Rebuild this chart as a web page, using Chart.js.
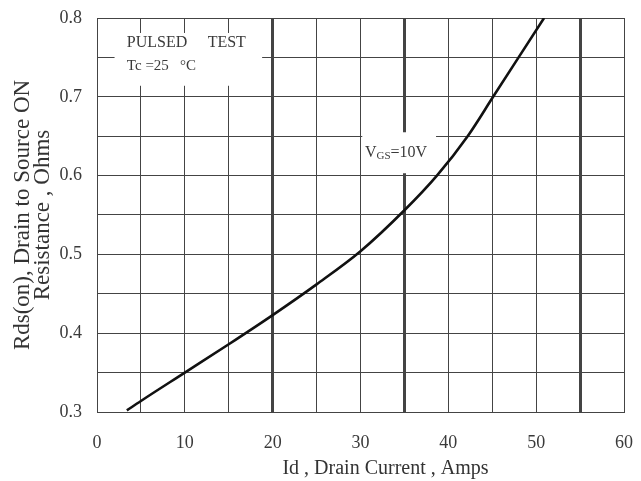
<!DOCTYPE html>
<html>
<head>
<meta charset="utf-8">
<script src="https://cdn.jsdelivr.net/npm/chart.js@4.4.1/dist/chart.umd.min.js"></script>
<style>
  html, body { margin: 0; padding: 0; background: #fff; }
  #wrap { width: 641px; height: 481px; position: relative; }
</style>
</head>
<body>
<div id="wrap"><canvas id="myChart"></canvas></div>
<script>
// Id (A) vs Rds(on) (ohm), VGS = 10V, Tc = 25C
const drainCurrent = [3.4, 5, 10, 15, 20, 25, 30, 35, 38.7, 42.2, 45.1, 48.0, 50.9];
const rdsOn = [0.302, 0.314, 0.350, 0.386, 0.423, 0.462, 0.504, 0.556, 0.600, 0.650, 0.700, 0.750, 0.800];

const xTickValues = [0, 10, 20, 30, 40, 50, 60];
const yTickValues = [0.3, 0.4, 0.5, 0.6, 0.7, 0.8];
const heavyGridX = [20, 35, 55];

const serif = '"Liberation Serif", "Times New Roman", serif';

// white boxes that cut the grid behind the notes (data units)
const noteBoxes = [
    { x0: 2.0, x1: 18.8, y0: 0.781, y1: 0.714 },
    { x0: 30.2, x1: 38.6, y0: 0.655, y1: 0.603 }
];

const notesPlugin = {
    id: 'notes',
    beforeDatasetsDraw(chart) {
        const { ctx, scales: { x, y } } = chart;
        ctx.save();
        ctx.fillStyle = '#fff';
        noteBoxes.forEach(b => {
            const left = x.getPixelForValue(b.x0), right = x.getPixelForValue(b.x1);
            const top = y.getPixelForValue(b.y0), bottom = y.getPixelForValue(b.y1);
            ctx.fillRect(left, top, right - left, bottom - top);
        });
        ctx.restore();
    },
    afterDatasetsDraw(chart) {
        const { ctx, scales: { x, y } } = chart;
        ctx.save();
        ctx.fillStyle = '#3a3a3a';
        ctx.textBaseline = 'middle';
        ctx.textAlign = 'left';
        ctx.font = '16px ' + serif;
        ctx.fillText('PULSED', x.getPixelForValue(3.4), y.getPixelForValue(0.768));
        ctx.fillText('TEST', x.getPixelForValue(12.6), y.getPixelForValue(0.768));
        ctx.font = '15px ' + serif;
        ctx.fillText('Tc =25   \u00B0C', x.getPixelForValue(3.4), y.getPixelForValue(0.739));

        // V with GS subscript
        let px = x.getPixelForValue(30.5);
        const py = y.getPixelForValue(0.629);
        ctx.font = '16px ' + serif;
        ctx.fillText('V', px, py);
        px += ctx.measureText('V').width;
        ctx.font = '11px ' + serif;
        ctx.fillText('GS', px, py + 3);
        px += ctx.measureText('GS').width;
        ctx.font = '16px ' + serif;
        ctx.fillText('=10V', px, py);
        ctx.restore();
    }
};

const ctx = document.getElementById('myChart');

new Chart(ctx.getContext('2d'), {
    type: 'line',
    data: {
        datasets: [{
            label: 'VGS=10V',
            data: drainCurrent.map((v, i) => ({ x: v, y: rdsOn[i] })),
            borderColor: '#111',
            borderWidth: 2.6,
            pointRadius: 0,
            fill: false,
            cubicInterpolationMode: 'monotone'
        }]
    },
    options: {
        responsive: true,
        maintainAspectRatio: false,
        animation: false,
        layout: {
            autoPadding: false,
            padding: { left: 0, right: 17, top: 18, bottom: 0 }
        },
        plugins: {
            legend: { display: false },
            tooltip: { enabled: false }
        },
        scales: {
            x: {
                type: 'linear',
                min: 0,
                max: 60,
                afterFit: scale => {
                    scale.height = 69;
                    scale.paddingLeft = 0;
                    scale.paddingRight = 0;
                },
                afterBuildTicks: scale => {
                    const t = [];
                    for (let v = 0; v <= 60; v += 5) t.push({ value: v });
                    scale.ticks = t;
                },
                ticks: {
                    autoSkip: false,
                    maxRotation: 0,
                    padding: 20,
                    color: '#3a3a3a',
                    font: { family: serif, size: 18 },
                    callback: v => xTickValues.includes(v) ? String(v) : ''
                },
                grid: {
                    drawTicks: false,
                    color: '#444',
                    lineWidth: c => heavyGridX.includes(c.tick && c.tick.value) ? 3 : 1
                },
                border: { color: '#444', width: 1 },
                title: {
                    display: true,
                    text: '          Id , Drain Current , Amps',
                    color: '#333',
                    font: { family: serif, size: 20 },
                    padding: { top: 0, bottom: 0 }
                }
            },
            y: {
                type: 'linear',
                min: 0.3,
                max: 0.8,
                afterFit: scale => {
                    scale.width = 97;
                    scale.paddingTop = 0;
                    scale.paddingBottom = 0;
                },
                afterBuildTicks: scale => {
                    const t = [];
                    for (let i = 0; i <= 10; i++) t.push({ value: Math.round((0.3 + i * 0.05) * 100) / 100 });
                    scale.ticks = t;
                },
                ticks: {
                    autoSkip: false,
                    padding: 15,
                    color: '#3a3a3a',
                    font: { family: serif, size: 18 },
                    callback: v => {
                        const hit = yTickValues.find(t => Math.abs(t - v) < 1e-6);
                        return hit !== undefined ? hit.toFixed(1) : '';
                    }
                },
                grid: {
                    drawTicks: false,
                    color: '#444',
                    lineWidth: 1
                },
                border: { color: '#444', width: 1 },
                title: {
                    display: true,
                    text: ['Rds(on), Drain to Source ON', 'Resistance , Ohms'],
                    color: '#333',
                    font: { family: serif, size: 23, lineHeight: '20px' },
                    padding: { top: 13, bottom: 0 }
                }
            }
        }
    },
    plugins: [notesPlugin]
});
</script>
</body>
</html>
